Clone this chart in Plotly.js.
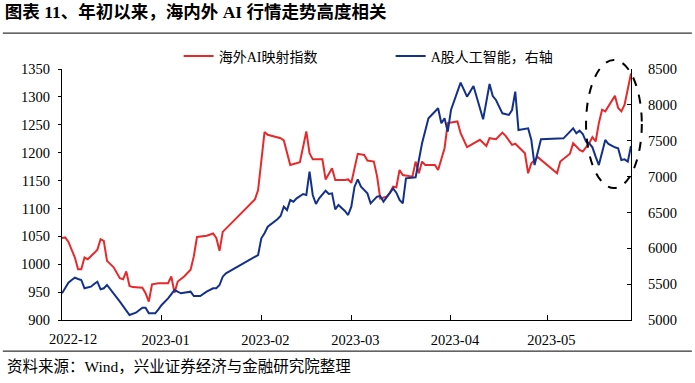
<!DOCTYPE html>
<html><head><meta charset="utf-8">
<script src="https://cdn.plot.ly/plotly-3.0.1.min.js"></script>
<style>html,body{margin:0;padding:0;background:#fff}</style>
</head><body><div id="chart" style="width:695px;height:383px"></div>
<script>
const titleText = "图表 11、年初以来，海内外 AI 行情走势高度相关";
const sourceText = "资料来源：Wind，兴业证券经济与金融研究院整理";
const seriesNames = ["海外AI映射指数", "A股人工智能，右轴"];
const monthTicks = ["2022-12-01","2023-01-01","2023-02-01","2023-03-01","2023-04-01","2023-05-01"];
const monthLabels = ["2022-12","2023-01","2023-02","2023-03","2023-04","2023-05"];

const redDates = ["2022-12-01","2022-12-02","2022-12-03","2022-12-04","2022-12-05","2022-12-06","2022-12-07","2022-12-08","2022-12-09","2022-12-11","2022-12-12","2022-12-13","2022-12-14","2022-12-15","2022-12-17","2022-12-19","2022-12-20","2022-12-21","2022-12-22","2022-12-23","2022-12-26","2022-12-27","2022-12-28","2022-12-29","2022-12-31",
"2023-01-03","2023-01-04","2023-01-05","2023-01-06","2023-01-08","2023-01-10","2023-01-11","2023-01-12","2023-01-15","2023-01-17","2023-01-18","2023-01-19","2023-01-20","2023-01-30","2023-01-31",
"2023-02-01","2023-02-02","2023-02-03","2023-02-06","2023-02-07","2023-02-08","2023-02-09","2023-02-10","2023-02-13","2023-02-14","2023-02-15","2023-02-16","2023-02-17","2023-02-20","2023-02-21","2023-02-23","2023-02-24","2023-02-27","2023-02-28",
"2023-03-01","2023-03-03","2023-03-05","2023-03-06","2023-03-08","2023-03-09","2023-03-10","2023-03-12","2023-03-13","2023-03-14","2023-03-15","2023-03-16","2023-03-17","2023-03-20","2023-03-21","2023-03-22","2023-03-23","2023-03-24","2023-03-27","2023-03-28","2023-03-30","2023-03-31",
"2023-04-03","2023-04-04","2023-04-06","2023-04-10","2023-04-12","2023-04-13","2023-04-15","2023-04-17","2023-04-18","2023-04-20","2023-04-21","2023-04-24","2023-04-25","2023-04-26","2023-04-28",
"2023-05-04","2023-05-05","2023-05-08","2023-05-09","2023-05-11","2023-05-12","2023-05-14","2023-05-15","2023-05-16","2023-05-17","2023-05-18","2023-05-19","2023-05-22","2023-05-23","2023-05-24","2023-05-25","2023-05-26","2023-05-27"];
const redValues = [1047,1048,1040,1026,1012,991,991,1012,1009,1020,1026,1045,1042,1006,995,975,973,987,961,959,958,948,933,964,966,
966,978,949,969,978,990,1014,1049,1051,1055,1047,1024,1058,1116,1133,
1187,1237,1232,1228,1226,1222,1202,1178,1183,1211,1238,1199,1188,1188,1152,1172,1151,1151,1152,
1146,1198,1196,1186,1184,1158,1118,1121,1128,1139,1138,1169,1160,1157,1184,1163,1184,1178,1178,1169,1208,1253,
1256,1235,1210,1223,1212,1226,1224,1236,1230,1214,1216,1199,1163,1181,1192,
1163,1184,1198,1217,1205,1202,1217,1228,1220,1253,1277,1274,1302,1280,1274,1286,1312,1342];

const blueDates = ["2022-12-01","2022-12-02","2022-12-03","2022-12-04","2022-12-05","2022-12-06","2022-12-07","2022-12-08","2022-12-10","2022-12-11","2022-12-12","2022-12-13","2022-12-14","2022-12-15","2022-12-17","2022-12-19","2022-12-22","2022-12-24","2022-12-26","2022-12-27","2022-12-28","2022-12-30","2022-12-31",
"2023-01-01","2023-01-03","2023-01-05","2023-01-07","2023-01-10","2023-01-11","2023-01-13","2023-01-15","2023-01-17","2023-01-18","2023-01-19","2023-01-20","2023-01-21","2023-01-31",
"2023-02-01","2023-02-02","2023-02-03","2023-02-06","2023-02-07","2023-02-08","2023-02-09","2023-02-10","2023-02-11","2023-02-12","2023-02-14","2023-02-15","2023-02-16","2023-02-17","2023-02-18","2023-02-19","2023-02-21","2023-02-22","2023-02-23","2023-02-24","2023-02-25","2023-02-27","2023-02-28",
"2023-03-01","2023-03-02","2023-03-03","2023-03-04","2023-03-06","2023-03-07","2023-03-09","2023-03-10","2023-03-11","2023-03-14","2023-03-15","2023-03-16","2023-03-17","2023-03-18","2023-03-21","2023-03-22","2023-03-23","2023-03-25","2023-03-28","2023-03-29","2023-03-30","2023-03-31",
"2023-04-01","2023-04-04","2023-04-06","2023-04-08","2023-04-11","2023-04-13","2023-04-14","2023-04-15","2023-04-17","2023-04-19","2023-04-20","2023-04-21","2023-04-22","2023-04-25","2023-04-26","2023-04-27","2023-04-29",
"2023-05-06","2023-05-09","2023-05-10","2023-05-11","2023-05-12","2023-05-13","2023-05-14","2023-05-15","2023-05-16","2023-05-17","2023-05-19","2023-05-20","2023-05-22","2023-05-23","2023-05-24","2023-05-25","2023-05-26","2023-05-27"];
const blueValues = [5372,5442,5520,5558,5590,5572,5558,5442,5465,5502,5534,5428,5442,5488,5363,5256,5070,5102,5172,5172,5093,5093,5149,
5209,5302,5418,5372,5395,5335,5335,5395,5442,5442,5488,5604,5651,5906,
6139,6209,6301,6404,6450,6580,6534,6673,6650,6696,6757,6743,7068,6743,6618,6696,6803,6757,6766,6543,6604,6520,6464,
6580,6859,6962,6859,6766,6627,6720,6729,6650,6836,6775,6673,6627,6976,6990,7231,7464,7812,7952,7743,7812,7626,
7928,8309,8114,8263,7798,8291,8123,8068,7882,7859,7928,8184,7649,7673,7510,7161,7520,
7533,7673,7603,7640,7594,7487,7464,7408,7278,7161,7510,7454,7408,7394,7231,7240,7208,7426];

const serif = "'Liberation Serif', 'Times New Roman', 'Noto Sans CJK SC', serif";
const tickFont = {family: serif, size: 14.5, color: "#000"};

const traces = [
  {x: redDates, y: redValues, name: seriesNames[0], type: "scatter", mode: "lines",
   line: {color: "#E8292B", width: 2}, yaxis: "y"},
  {x: blueDates, y: blueValues, name: seriesNames[1], type: "scatter", mode: "lines",
   line: {color: "#13318A", width: 2}, yaxis: "y2"}
];

const layout = {
  width: 695, height: 383,
  margin: {l: 62, r: 64, t: 69, b: 63},
  paper_bgcolor: "#fff", plot_bgcolor: "#fff",
  font: {family: serif, size: 14, color: "#000"},
  title: {text: "<b>" + titleText + "</b>", xref: "container", yref: "container",
          x: 0.007, xanchor: "left", y: 0.985, yanchor: "top",
          font: {family: "'Liberation Serif', 'Noto Sans CJK SC', serif", size: 17.5, color: "#000"}},
  showlegend: true,
  legend: {orientation: "h", x: 0.205, xanchor: "left", y: 1.05, yanchor: "middle",
           entrywidth: 167, entrywidthmode: "pixels", itemwidth: 30,
           font: {family: serif, size: 14, color: "#000"}, bgcolor: "rgba(0,0,0,0)"},
  xaxis: {type: "date", range: [redDates[0], redDates[redDates.length - 1]],
          tickmode: "array", tickvals: monthTicks, ticktext: ["", ...monthLabels.slice(1)],
          ticks: "inside", ticklen: 5, tickcolor: "#000", ticklabelshift: 4, ticklabelstandoff: 7,
          showline: true, linecolor: "#000", linewidth: 1, showgrid: false, zeroline: false,
          tickfont: tickFont},
  yaxis: {range: [900, 1350], dtick: 50, tick0: 900, ticks: "outside", ticklen: 3, tickcolor: "#000",
          ticklabelstandoff: 5,
          showline: true, linecolor: "#000", linewidth: 1, showgrid: false, zeroline: false,
          tickfont: tickFont},
  yaxis2: {range: [5000, 8500], dtick: 500, tick0: 5000, overlaying: "y", side: "right",
           ticks: "inside", ticklen: 4, tickcolor: "#000", ticklabelstandoff: 13,
           showline: true, linecolor: "#000", linewidth: 1, showgrid: false, zeroline: false,
           tickfont: tickFont},
  shapes: [
    {type: "line", xref: "paper", yref: "paper", x0: -0.104, x1: 1.107, y0: 1.143, y1: 1.143,
     line: {color: "#000", width: 1}},
    {type: "line", xref: "paper", yref: "paper", x0: -0.104, x1: 1.107, y0: -0.124, y1: -0.124,
     line: {color: "#000", width: 1}},
    {type: "circle", xref: "paper", yref: "paper", x0: 0.921, x1: 1.019, y0: 0.526, y1: 1.036,
     line: {color: "#000", width: 2, dash: "dash"}}
  ],
  annotations: [
    {text: monthLabels[0], xref: "paper", yref: "paper", x: 0.02, y: -0.076,
     xanchor: "center", yanchor: "middle", showarrow: false, font: tickFont},
    {text: sourceText, xref: "paper", yref: "paper", x: -0.100, y: -0.183,
     xanchor: "left", yanchor: "middle", showarrow: false,
     font: {family: serif, size: 15.5, color: "#000"}}
  ]
};

Plotly.newPlot("chart", traces, layout, {displayModeBar: false, staticPlot: true});
</script>
</body></html>
